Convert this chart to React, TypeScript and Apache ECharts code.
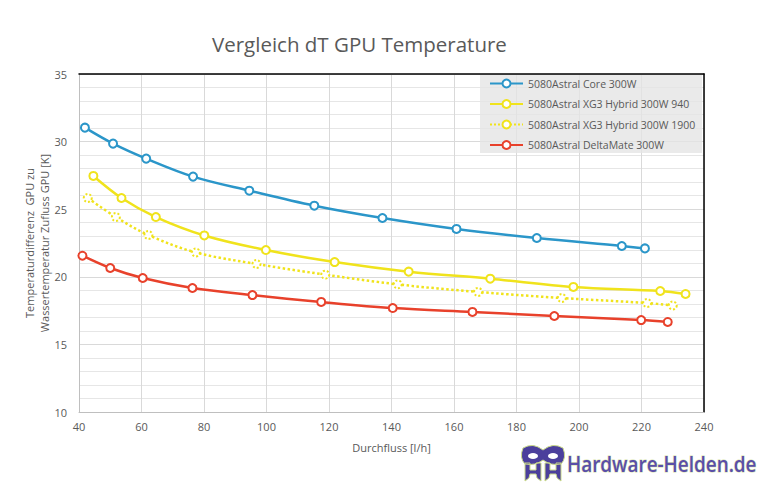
import React, { useEffect, useRef } from 'react';
import * as echarts from 'echarts';

// Durchfluss [l/h] and dT [K] per cooler
const coreFlow = [41.9, 50.9, 61.5, 76.5, 94.5, 115.3, 137.1, 160.8, 186.5, 213.7, 221.1];
const coreDt = [31.03, 29.85, 28.74, 27.41, 26.37, 25.26, 24.35, 23.54, 22.87, 22.28, 22.1];

const xg3940Flow = [44.6, 53.6, 64.6, 80.1, 99.8, 121.8, 145.5, 171.6, 198.2, 226.0, 234.1];
const xg3940Dt = [27.46, 25.83, 24.42, 23.06, 21.98, 21.09, 20.38, 19.86, 19.25, 18.95, 18.73];

const xg31900Flow = [42.8, 51.8, 62.2, 77.4, 96.8, 118.8, 142.0, 167.7, 194.5, 221.8, 230.0];
const xg31900Dt = [25.83, 24.42, 23.09, 21.8, 20.95, 20.16, 19.44, 18.88, 18.43, 18.06, 17.88];

const deltaFlow = [41.1, 50.0, 60.4, 76.3, 95.5, 117.5, 140.4, 165.9, 192.1, 219.9, 228.4];
const deltaDt = [21.56, 20.65, 19.91, 19.17, 18.65, 18.14, 17.69, 17.4, 17.1, 16.8, 16.66];

const seriesNames = [
  '5080Astral Core 300W',
  '5080Astral XG3 Hybrid 300W 940',
  '5080Astral XG3 Hybrid 300W 1900',
  '5080Astral DeltaMate 300W',
];
const seriesColors = ['#2b96c9', '#f0e31c', '#f0e31c', '#e8412b'];

const FONT = 'Open Sans';
const GREY = '#595959';

const maskPath =
  'M2 4 Q12 -2 22 6 Q32 -2 42 4 Q46 14 40 20 Q30 22 22 16 Q14 22 4 20 Q-2 14 2 4 Z ' +
  'M4 19 L9 19 L9 26 L15 26 L15 19 L20 19 L20 37 L16 34 L15 30 L9 30 L8 34 L4 37 Z ' +
  'M24 19 L29 19 L29 26 L35 26 L35 19 L40 19 L40 37 L36 34 L35 30 L29 30 L28 34 L24 37 Z';
echarts.graphic.registerShape('helmask', echarts.graphic.extendPath(maskPath, {}) as any);

const zip = (xs: number[], ys: number[]) => xs.map((x, i) => [x, ys[i]]);

const App: React.FC = () => {
  const ref = useRef<HTMLDivElement>(null);

  useEffect(() => {
    if (!ref.current) return;
    const chart = echarts.init(ref.current, null, { renderer: 'svg' });
    const data = [
      zip(coreFlow, coreDt),
      zip(xg3940Flow, xg3940Dt),
      zip(xg31900Flow, xg31900Dt),
      zip(deltaFlow, deltaDt),
    ];
    chart.setOption({
      animation: false,
      backgroundColor: '#ffffff',
      textStyle: { fontFamily: FONT },
      title: {
        text: 'Vergleich dT GPU Temperature',
        left: 207,
        top: 28,
        textStyle: { fontFamily: FONT, fontSize: 20.5, fontWeight: 'normal', color: GREY },
      },
      grid: { left: 79, top: 74, width: 625, height: 338 },
      legend: {
        orient: 'vertical',
        left: 484,
        top: 73,
        itemWidth: 33,
        itemHeight: 10,
        itemGap: 9.5,
        data: seriesNames,
        textStyle: { fontFamily: FONT, fontSize: 10.5, color: GREY },
      },
      xAxis: [
        {
          type: 'value',
          min: 40,
          max: 240,
          interval: 20,
          name: 'Durchfluss [l/h]',
          nameLocation: 'middle',
          nameGap: 30,
          nameTextStyle: { fontFamily: FONT, fontSize: 11, color: GREY },
          axisLine: { show: true, lineStyle: { color: '#bfbfbf', width: 1 } },
          axisTick: { show: false },
          axisLabel: { fontFamily: FONT, fontSize: 11, color: GREY, margin: 9 },
          splitLine: { show: true, lineStyle: { color: '#d9d9d9' } },
        },
        {
          type: 'value',
          position: 'top',
          min: 40,
          max: 240,
          axisLine: { show: true, onZero: false, lineStyle: { color: '#000000', width: 1.5 } },
          axisTick: { show: false },
          axisLabel: { show: false },
          splitLine: { show: false },
        },
      ],
      yAxis: [
        {
          type: 'value',
          min: 10,
          max: 35,
          interval: 5,
          name: 'Temperaturdifferenz  GPU zu\nWassertemperatur Zufluss GPU [K]',
          nameLocation: 'middle',
          nameGap: 27,
          nameMoveOverlap: false,
          nameTextStyle: { fontFamily: FONT, fontSize: 11, color: GREY, lineHeight: 15 },
          axisLine: { show: true, onZero: false, lineStyle: { color: '#bfbfbf', width: 1 } },
          axisTick: { show: false },
          axisLabel: { fontFamily: FONT, fontSize: 11, color: GREY, margin: 12 },
          splitLine: { show: true, lineStyle: { color: '#d9d9d9' } },
          minorTick: { show: false, splitNumber: 5 },
          minorSplitLine: { show: true, lineStyle: { color: '#e6e6e6', width: 1 } },
        },
        {
          type: 'value',
          position: 'right',
          min: 10,
          max: 35,
          axisLine: { show: true, onZero: false, lineStyle: { color: '#000000', width: 1.5 } },
          axisTick: { show: false },
          axisLabel: { show: false },
          splitLine: { show: false },
        },
      ],
      graphic: [
        {
          type: 'rect',
          shape: { x: 480, y: 75, width: 222, height: 78 },
          style: { fill: 'rgba(228,228,228,0.78)' },
          z: 1,
        },
        {
          type: 'helmask',
          x: 521,
          y: 444,
          style: { fill: '#4b3f9c', stroke: '#c9d98a', lineWidth: 1 },
          z: 10,
        },
        { type: 'ellipse', shape: { cx: 533, cy: 456, rx: 5, ry: 3 }, style: { fill: '#ffffff' }, z: 11 },
        { type: 'ellipse', shape: { cx: 553, cy: 456, rx: 5, ry: 3 }, style: { fill: '#ffffff' }, z: 11 },
        {
          type: 'text',
          x: 567,
          y: 463,
          scaleX: 0.86,
          style: {
            text: 'Hardware-Helden.de',
            fontFamily: FONT,
            fontSize: 22,
            fontWeight: 600,
            fill: '#5a4ea8',
            stroke: '#d6e3a8',
            lineWidth: 1,
            verticalAlign: 'middle',
          },
          z: 10,
        },
      ],
      series: data.map((d, i) => ({
        name: seriesNames[i],
        type: 'line',
        smooth: 0.35,
        data: d,
        z: 5,
        symbol: 'emptyCircle',
        symbolSize: 8,
        showSymbol: true,
        color: seriesColors[i],
        lineStyle: { color: seriesColors[i], width: 2.5, type: i === 2 ? 'dotted' : 'solid' },
        itemStyle: {
          color: seriesColors[i],
          borderWidth: 2,
          borderType: i === 2 ? 'dotted' : 'solid',
        },
        emphasis: { disabled: true },
      })),
    });
    return () => chart.dispose();
  }, []);

  return <div ref={ref} style={{ position: 'fixed', left: 0, top: 0, width: 767, height: 487 }} />;
};

export default App;
